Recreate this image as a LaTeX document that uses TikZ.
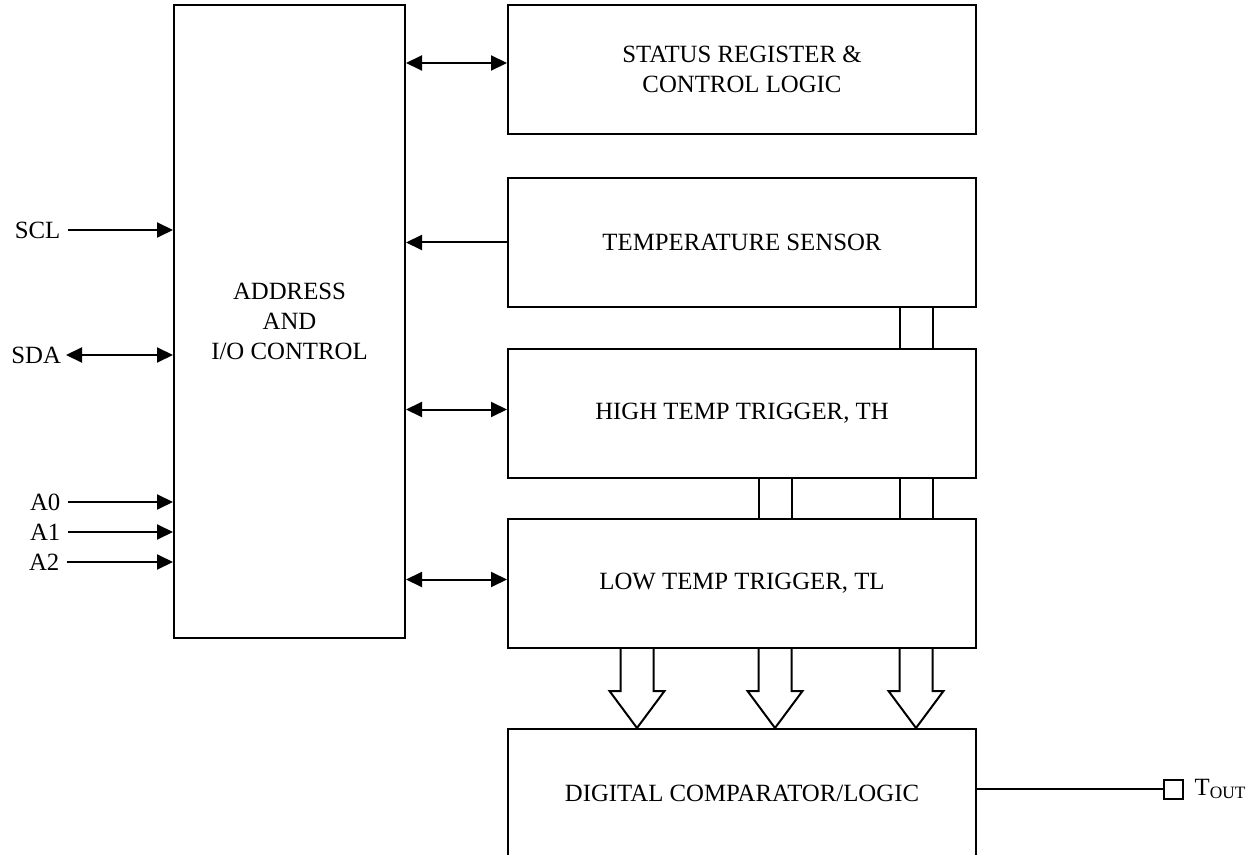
\documentclass[tikz,border=0pt]{standalone}
\usepackage{fontspec}
\setmainfont{Liberation Serif}
\usetikzlibrary{positioning, arrows.meta}

\begin{document}
\begin{tikzpicture}[>={Triangle[length=8pt, width=7.5pt]}, line width=1pt,
        every node/.style={font=\fontsize{12.4}{15}\selectfont},
        block/.style={draw, rectangle, minimum width=234pt, minimum height=64.5pt, align=center}]
            \useasboundingbox (0,0) rectangle (628.5pt,-427.5pt);

            % Address and I/O control
            \node[draw, rectangle, minimum width=115.5pt, minimum height=316.5pt, align=center] (addr) at (144.75pt,-160.75pt) {ADDRESS\\AND\\I/O CONTROL};

            % Register blocks
            \node[block, right=50.5pt of addr.north east, anchor=north west] (status) {STATUS REGISTER \&\\CONTROL LOGIC};
            \node[block, below=21pt of status] (sensor) {TEMPERATURE SENSOR};
            \node[block, below=20pt of sensor] (high) {HIGH TEMP TRIGGER, TH};
            \node[block, below=19.5pt of high] (low) {LOW TEMP TRIGGER, TL};
            \node[block, below=39.5pt of low] (comp) {DIGITAL COMPARATOR/LOGIC};

            % Output pin
            \node[draw, rectangle, minimum size=9.5pt, inner sep=0pt, right=93pt of comp, yshift=2.25pt] (tout) {};
            \node[right=1.5pt of tout] (toutlbl) {T\textsubscript{OUT}};

            % Bus pins
            \node[anchor=east] (scl) at (34pt,-115pt) {SCL};
            \node[anchor=east, inner sep=2pt] (sda) at (33pt,-177.5pt) {SDA};
            \node[anchor=east] (azero) at (34pt,-251pt) {A0};
            \node[anchor=east] (aone) at (34pt,-266pt) {A1};
            \node[anchor=east] (atwo) at (33.5pt,-281pt) {A2};

            % Arrows into address block
            \draw[->] (scl) -- (scl -| addr.west);
            \draw[<->] (sda) -- (sda -| addr.west);
            \draw[->] (azero) -- (azero -| addr.west);
            \draw[->] (aone) -- (aone -| addr.west);
            \draw[->] (atwo) -- (atwo -| addr.west);

            % Arrows between address block and registers
            \draw[<->] ([yshift=3.25pt]addr.east |- status.west) -- ([yshift=3.25pt]status.west);
            \draw[->] (sensor.west) -- (addr.east |- sensor.west);
            \draw[<->] ([yshift=2pt]addr.east |- high.west) -- ([yshift=2pt]high.west);
            \draw[<->] ([yshift=2pt]addr.east |- low.west) -- ([yshift=2pt]low.west);

            % Internal buses
            \draw ([xshift=196.5pt]sensor.south west) -- ([xshift=196.5pt]high.north west);
            \draw ([xshift=213pt]sensor.south west) -- ([xshift=213pt]high.north west);
            \draw ([xshift=125.75pt]high.south west) -- ([xshift=125.75pt]low.north west);
            \draw ([xshift=142.25pt]high.south west) -- ([xshift=142.25pt]low.north west);
            \draw ([xshift=196.5pt]high.south west) -- ([xshift=196.5pt]low.north west);
            \draw ([xshift=213pt]high.south west) -- ([xshift=213pt]low.north west);

            % Hollow arrows into comparator
            \draw ([xshift=56.75pt]low.south west) -- ([xshift=56.75pt, yshift=-21pt]low.south west) -- ([xshift=51.25pt, yshift=-21pt]low.south west) -- ([xshift=65pt]comp.north west) -- ([xshift=78.75pt, yshift=-21pt]low.south west) -- ([xshift=73.25pt, yshift=-21pt]low.south west) -- ([xshift=73.25pt]low.south west);
            \draw ([xshift=125.75pt]low.south west) -- ([xshift=125.75pt, yshift=-21pt]low.south west) -- ([xshift=120.25pt, yshift=-21pt]low.south west) -- ([xshift=134pt]comp.north west) -- ([xshift=147.75pt, yshift=-21pt]low.south west) -- ([xshift=142.25pt, yshift=-21pt]low.south west) -- ([xshift=142.25pt]low.south west);
            \draw ([xshift=196.25pt]low.south west) -- ([xshift=196.25pt, yshift=-21pt]low.south west) -- ([xshift=190.75pt, yshift=-21pt]low.south west) -- ([xshift=204.5pt]comp.north west) -- ([xshift=218.25pt, yshift=-21pt]low.south west) -- ([xshift=212.75pt, yshift=-21pt]low.south west) -- ([xshift=212.75pt]low.south west);

            % Output line
            \draw (tout.west -| comp.east) -- (tout.west);
        \end{tikzpicture}
\end{document}
